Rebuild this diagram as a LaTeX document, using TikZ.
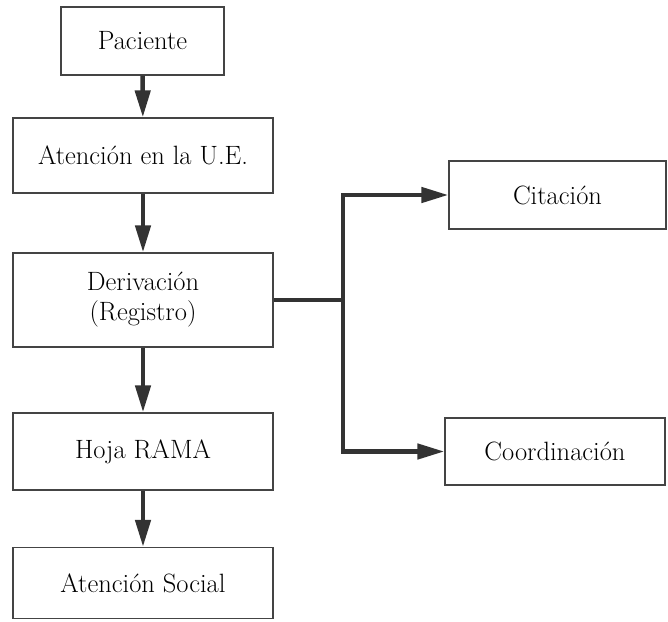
\documentclass[tikz,border=0pt]{standalone}
\usetikzlibrary{arrows.meta}
\definecolor{ink}{HTML}{333333}
\definecolor{frame}{HTML}{444444}
\begin{document}
\begin{tikzpicture}[x=1pt,y=1pt,
  box/.style={draw=frame,line width=1.2pt,fill=white,inner sep=0pt,
    align=center,text=black,font=\rmfamily\fontsize{26.5}{30}\selectfont},
  conn/.style={draw=ink,line width=4.5pt,line cap=butt},
  arr/.style={conn,-{Triangle[length=27pt,width=15pt]}}
]
\useasboundingbox (0,0) rectangle (668,-621);
\fill[white] (0,0) rectangle (668,-621);
\node[box,minimum width=163pt,minimum height=68pt] (pac) at (142.5,-41) {Paciente};
\node[box,minimum width=260pt,minimum height=75pt] (ue) at (143,-155.5) {Atención en la U.E.};
\node[box,minimum width=260pt,minimum height=94pt] (der) at (143,-300) {Derivación\\(Registro)};
\node[box,minimum width=260pt,minimum height=77pt] (hoja) at (143,-451.5) {Hoja RAMA};
\node[box,minimum width=260pt,minimum height=71pt] (soc) at (143,-583) {Atención Social};
\node[box,minimum width=217pt,minimum height=68pt] (cit) at (557.5,-195) {Citación};
\node[box,minimum width=220pt,minimum height=67pt] (coo) at (555,-451.5) {Coordinación};
\coordinate (j) at (343,-300);
\draw[arr] (pac) -- (ue);
\draw[arr] (ue) -- (der);
\draw[arr] (der) -- (hoja);
\draw[arr] (hoja) -- (soc);
\draw[conn] (der.east) -- (j);
\draw[arr] (j) |- (cit.west);
\draw[arr] (j) |- (coo.west);
\end{tikzpicture}
\end{document}
